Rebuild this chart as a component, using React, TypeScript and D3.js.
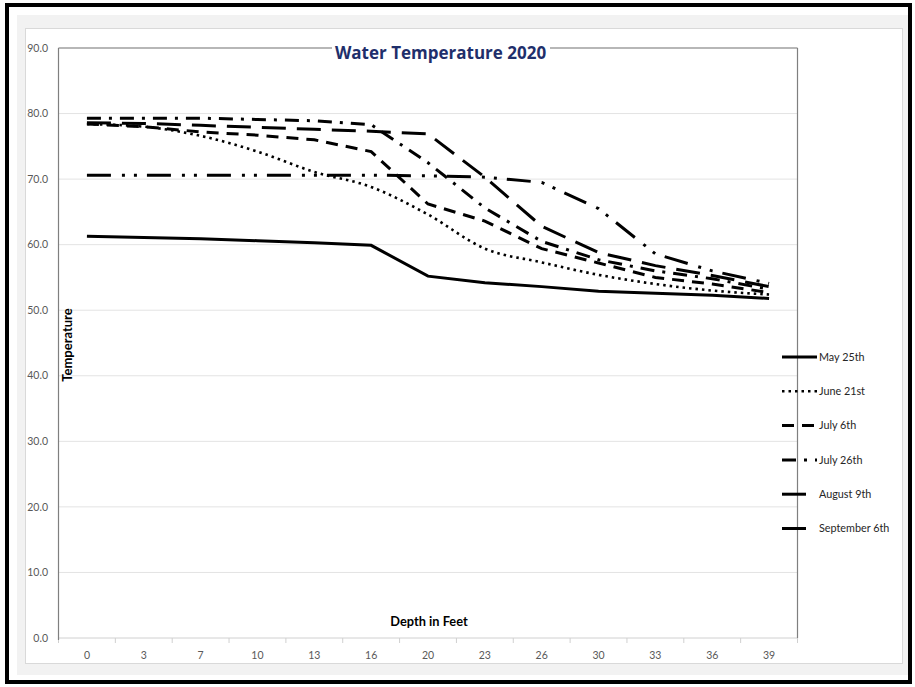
import React from "react";
import * as d3 from "d3";

const depths = ["0", "3", "7", "10", "13", "16", "20", "23", "26", "30", "33", "36", "39"];
const seriesNames = ["May 25th", "June 21st", "July 6th", "July 26th", "August 9th", "September 6th"];
const may25 = [61.3, 61.1, 60.9, 60.6, 60.3, 59.9, 55.2, 54.2, 53.6, 52.9, 52.6, 52.3, 51.8];
const june21 = [78.4, 78.0, 76.6, 74.2, 71.1, 68.8, 64.6, 59.4, 57.3, 55.4, 54.0, 53.0, 52.4];
const july6 = [78.4, 78.0, 77.2, 76.7, 76.0, 74.2, 66.2, 63.6, 59.4, 57.2, 55.0, 54.0, 52.7];
const july26 = [79.3, 79.3, 79.3, 79.1, 78.9, 78.3, 72.5, 65.6, 60.5, 57.7, 56.0, 54.8, 53.2];
const aug9 = [78.6, 78.5, 78.2, 77.9, 77.6, 77.3, 76.9, 70.3, 62.8, 58.8, 56.8, 55.3, 53.6];
const sep6 = [70.6, 70.6, 70.6, 70.6, 70.6, 70.6, 70.5, 70.3, 69.5, 65.5, 58.6, 56.0, 54.1];
const yTicks = [0, 10, 20, 30, 40, 50, 60, 70, 80, 90];

const dashes = ["", "2.5,4", "12,8", "14,8,3,8", "24,11", "24,11,3,9,3,10"];
const seriesValues = [may25, june21, july6, july26, aug9, sep6];

const W = 915;
const H = 687;
const L = 58.5, R = 797.5, T = 48, B = 638;
const FONT = "Lato, 'Open Sans', sans-serif";

export default function App() {
  const x = d3.scalePoint<string>().domain(depths).range([L, R]).padding(0.5);
  const xb = d3.scaleBand<string>().domain(depths).range([L, R]).padding(0);
  const y = d3.scaleLinear().domain([0, 90]).range([B, T]);

  const line = (vals: number[], smooth: boolean) =>
    d3
      .line<number>()
      .x((_, i) => x(depths[i]) as number)
      .y((v) => y(v))
      .curve(smooth ? d3.curveMonotoneX : d3.curveLinear)(vals) as string;

  const tickEdges = [...depths.map((d) => xb(d) as number), R];

  const legendY0 = 357;
  const legendStep = 34.3;

  return (
    <svg
      width={W}
      height={H}
      style={{ position: "absolute", left: 0, top: 0, background: "#fff" }}
      fontFamily={FONT}
    >
      <rect x={0} y={0} width={W} height={H} fill="#fff" />
      <rect x={7} y={5} width={903} height={677} fill="none" stroke="#000" strokeWidth={4} />
      <rect x={17} y={15} width={891} height={660} fill="#f2f2f2" />
      <rect x={25.5} y={28.5} width={877} height={635} fill="#fff" stroke="#d9d9d9" strokeWidth={1} />

      {/* gridlines */}
      {yTicks.map((t) => (
        <line key={"g" + t} x1={L} x2={R} y1={y(t)} y2={y(t)} stroke={t === 0 ? "#d0d0d0" : "#e3e3e3"} strokeWidth={1} />
      ))}
      {/* x ticks */}
      {tickEdges.map((e, i) => (
        <line key={"xt" + i} x1={e} x2={e} y1={B} y2={B + 5} stroke="#d0d0d0" strokeWidth={1} />
      ))}
      {/* plot frame */}
      <line x1={L} x2={R} y1={T} y2={T} stroke="#7f7f7f" strokeWidth={1.2} />
      <line x1={L} x2={L} y1={T} y2={B + 2} stroke="#7f7f7f" strokeWidth={1.2} />
      <line x1={R} x2={R} y1={T} y2={B} stroke="#7f7f7f" strokeWidth={1.2} />

      {/* y tick labels */}
      {yTicks.map((t) => (
        <text key={"yl" + t} x={48} y={y(t)} dy="0.35em" textAnchor="end" fontSize={10.5} fill="#595959">
          {t.toFixed(1)}
        </text>
      ))}
      {/* x tick labels */}
      {depths.map((d) => (
        <text key={"xl" + d} x={x(d) as number} y={655} dy="0.35em" textAnchor="middle" fontSize={10.5} fill="#595959">
          {d}
        </text>
      ))}

      {/* series */}
      {seriesValues.map((vals, i) => (
        <path
          key={"s" + i}
          d={line(vals, i === 1)}
          fill="none"
          stroke="#000"
          strokeWidth={i === 1 ? 2.6 : 3}
          strokeDasharray={dashes[i] || undefined}
        />
      ))}

      {/* title */}
      <rect x={332} y={40} width={218} height={24} fill="#fff" />
      <text
        x={440.5}
        y={53}
        dy="0.35em"
        textAnchor="middle"
        fontSize={17}
        fontWeight="bold"
        fill="#1f2f6b"
        fontFamily="'Open Sans', Lato, sans-serif"
      >
        Water Temperature 2020
      </text>

      {/* axis titles */}
      <text
        transform={`translate(72,345) rotate(-90)`}
        textAnchor="middle"
        fontSize={13}
        fontWeight="bold"
        fill="#000"
      >
        Temperature
      </text>
      <text x={429} y={622} dy="0.35em" textAnchor="middle" fontSize={12.8} fontWeight="bold" fill="#000">
        Depth in Feet
      </text>

      {/* legend */}
      {seriesNames.map((n, i) => {
        const ly = legendY0 + i * legendStep;
        return (
          <g key={"lg" + i}>
            <line
              x1={782}
              x2={817}
              y1={ly}
              y2={ly}
              stroke="#000"
              strokeWidth={i === 1 ? 2.6 : 3}
              strokeDasharray={dashes[i] || undefined}
            />
            <text x={819} y={ly} dy="0.35em" fontSize={10.8} fill="#262626">
              {n}
            </text>
          </g>
        );
      })}
    </svg>
  );
}
